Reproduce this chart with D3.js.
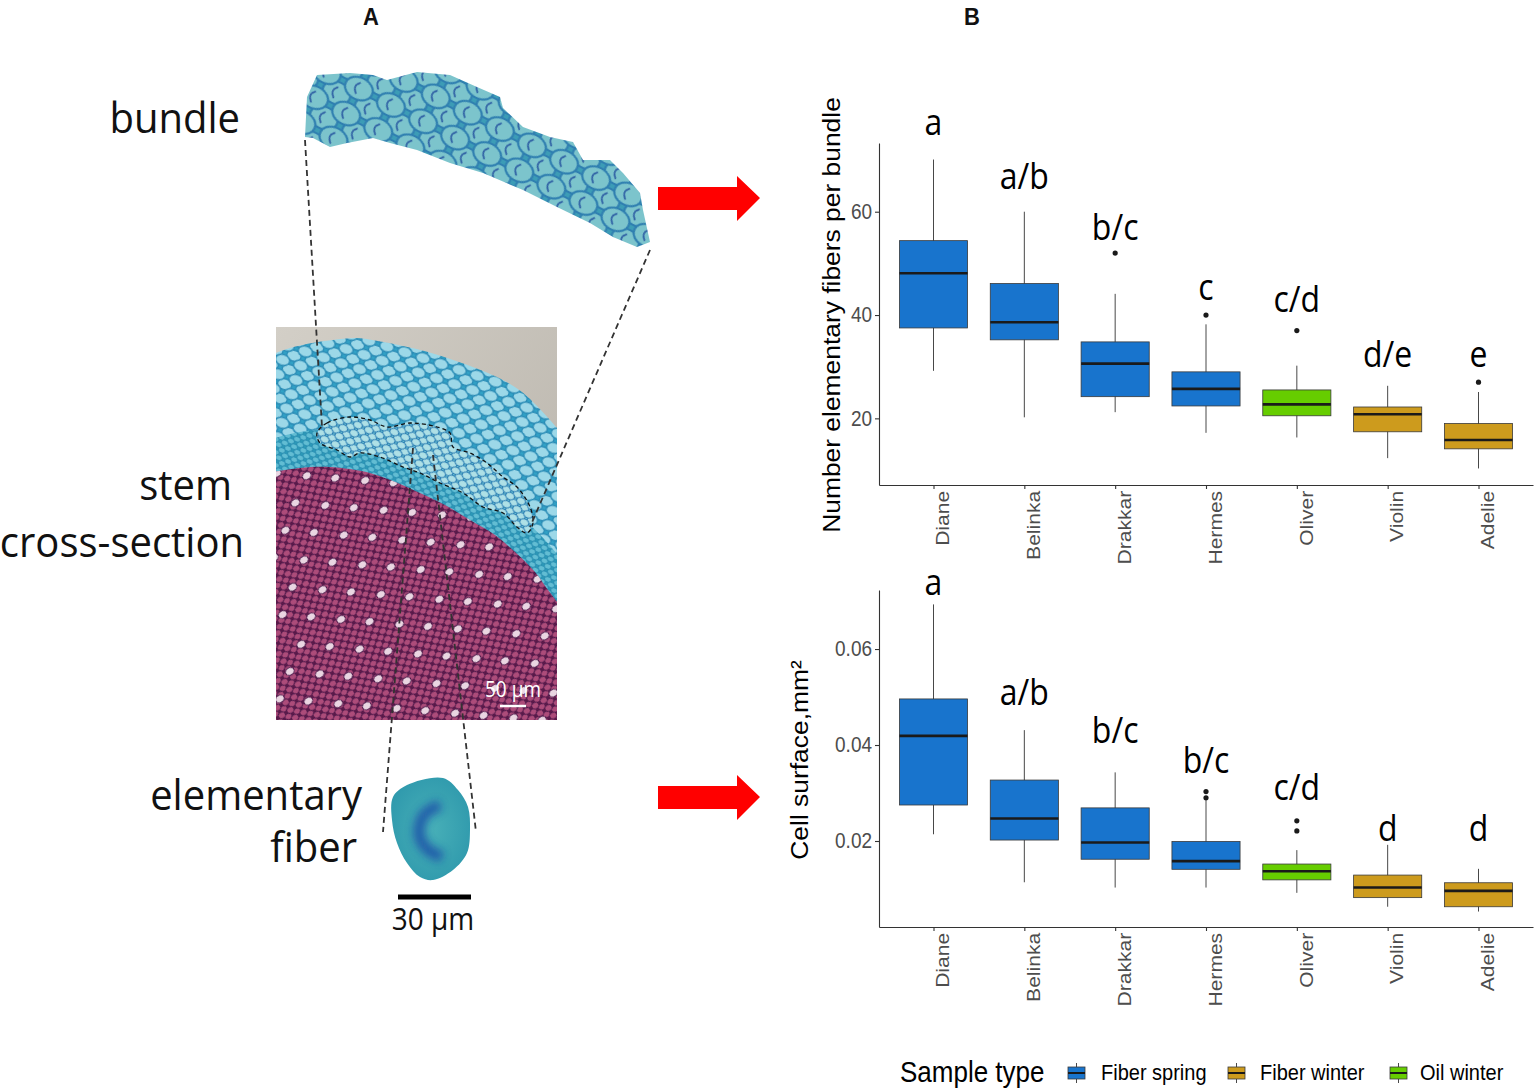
<!DOCTYPE html>
<html>
<head>
<meta charset="utf-8">
<script src="https://cdn.jsdelivr.net/npm/d3@7"></script>
<style>
  body { margin: 0; background: #fff; }
  svg { display: block; }
</style>
</head>
<body>
<div id="fig"></div>
<script>
// ---------- data ----------
const cultivars  = ["Diane", "Belinka", "Drakkar", "Hermes", "Oliver", "Violin", "Adelie"];
const sampleType = ["Fiber spring", "Fiber spring", "Fiber spring", "Fiber spring", "Oil winter", "Fiber winter", "Fiber winter"];

// number of elementary fibers per bundle
const fiberLower    = [29.2, 20.2, 21.2, 17.2, 16.3, 12.3, 10.3];
const fiberQ1       = [37.5, 35.2, 24.2, 22.4, 20.5, 17.4, 14.1];
const fiberMedian   = [48.1, 38.6, 30.6, 25.7, 22.7, 20.8, 15.8];
const fiberQ3       = [54.4, 46.1, 34.8, 29.0, 25.5, 22.2, 19.0];
const fiberUpper    = [70.1, 60.0, 44.1, 38.2, 30.2, 26.3, 25.1];
const fiberOutliers = [[], [], [52], [40], [37], [], [27]];
const fiberLetters  = ["a", "a/b", "b/c", "c", "c/d", "d/e", "e"];
const fiberLetterY  = [74.8, 64.3, 54.5, 42.9, 40.6, 30.0, 30.0];
const fiberTicks    = [20, 40, 60];

// cell surface, mm2
const surfLower    = [0.0214, 0.0114, 0.0103, 0.0103, 0.0092, 0.0063, 0.0053];
const surfQ1       = [0.0275, 0.0202, 0.0162, 0.0141, 0.0119, 0.0082, 0.0063];
const surfMedian   = [0.0419, 0.0247, 0.0197, 0.0158, 0.0137, 0.0103, 0.0096];
const surfQ3       = [0.0496, 0.0327, 0.0269, 0.0199, 0.0152, 0.0129, 0.0113];
const surfUpper    = [0.0693, 0.0431, 0.0343, 0.0285, 0.0181, 0.0192, 0.0142];
const surfOutliers = [[], [], [], [0.0303, 0.0290], [0.0242, 0.0221], [], []];
const surfLetters  = ["a", "a/b", "b/c", "b/c", "c/d", "d", "d"];
const surfLetterY  = [0.0713, 0.0483, 0.0404, 0.0342, 0.0285, 0.0199, 0.0199];
const surfTicks    = [0.02, 0.04, 0.06];

const legendTypes  = ["Fiber spring", "Fiber winter", "Oil winter"];
const legendColors = ["#1874CD", "#CD9B1D", "#66CD00"];

// ---------- setup ----------
const W = 1535, H = 1089;
const S = 1.12;   // the original figure is slightly stretched vertically
const sansR = "'Liberation Sans', Arial, sans-serif";
const sansO = "'Open Sans', sans-serif";

const color = d3.scaleOrdinal().domain(legendTypes).range(legendColors);

const svg = d3.select("#fig").append("svg")
    .attr("width", W)
    .attr("height", H);
const defs = svg.append("defs");

function htext(parent, x, y, str, size, opts = {}) {
    return parent.append("text")
        .attr("transform", `translate(${x},${y}) scale(1,${opts.sy || S})`)
        .attr("font-size", size)
        .attr("font-family", opts.family || sansO)
        .attr("font-weight", opts.weight || "normal")
        .attr("text-anchor", opts.anchor || "start")
        .attr("fill", opts.fill || "#111")
        .text(str);
}

// panel letters
htext(svg, 371, 25, "A", 22, {family: sansR, weight: "bold", anchor: "middle"});
htext(svg, 972, 25, "B", 22, {family: sansR, weight: "bold", anchor: "middle"});

// ---------- panel A : micrographs (drawn illustration) ----------
const line = d3.line().curve(d3.curveCatmullRom.alpha(0.5));
const lineClosed = d3.line().curve(d3.curveCatmullRomClosed.alpha(0.5));

function cellPattern(id, w, h, rot, base, rx, ry, fill, stroke, sw, lumen) {
    const p = defs.append("pattern").attr("id", id)
        .attr("patternUnits", "userSpaceOnUse")
        .attr("width", w).attr("height", h)
        .attr("patternTransform", `rotate(${rot})`);
    p.append("rect").attr("width", w).attr("height", h).attr("fill", base);
    [[w / 2, h / 2], [0, 0], [w, 0], [0, h], [w, h]].forEach(([cx, cy]) => {
        p.append("ellipse").attr("cx", cx).attr("cy", cy)
            .attr("rx", rx).attr("ry", ry)
            .attr("fill", fill).attr("stroke", stroke).attr("stroke-width", sw);
        if (lumen) {
            p.append("path")
                .attr("d", `M${cx - rx * 0.1},${cy - ry * 0.5} q${-rx * 0.4},${ry * 0.5} ${rx * 0.05},${ry * 1.0}`)
                .attr("fill", "none").attr("stroke", lumen).attr("stroke-width", sw * 0.8)
                .attr("stroke-linecap", "round").attr("opacity", 0.85);
        }
    });
}
cellPattern("bundleCells", 36, 28, 27, "#3c9cb6", 14.5, 11, "#7cc4cc", "#2f7fb0", 2.2, "#22509e");
cellPattern("cortexCells", 19, 15, 18, "#31a2c6", 7.3, 5.5, "#9cd8e8", "#2a8cb6", 1.4, null);
cellPattern("phloemCells", 10, 8, 22, "#2b9ab8", 3.6, 2.8, "#62bdd3", "#2389ae", 0.9, null);
cellPattern("xylemCells", 10, 9, -32, "#741846", 3.9, 3.4, "#ad4c7a", "#4a1547", 1.1, null);
cellPattern("smallBundle", 12, 9, 25, "#6cc4d2", 4.6, 3.5, "#aee0e6", "#2a7db3", 1.1, null);

const pl = defs.append("pattern").attr("id", "xylemLight")
    .attr("patternUnits", "userSpaceOnUse").attr("width", 47).attr("height", 35)
    .attr("patternTransform", "rotate(-32)");
[[8, 6], [31, 23]].forEach(([cx, cy]) => pl.append("ellipse")
    .attr("cx", cx).attr("cy", cy).attr("rx", 4.6).attr("ry", 3.8)
    .attr("fill", "#ead6e2").attr("stroke", "#4a1547").attr("stroke-width", 1));

const gg = defs.append("linearGradient").attr("id", "bgGray")
    .attr("x1", 0).attr("y1", 0).attr("x2", 1).attr("y2", 1);
gg.append("stop").attr("offset", 0).attr("stop-color", "#d3cfc7");
gg.append("stop").attr("offset", 1).attr("stop-color", "#b6b1a8");

const fg = defs.append("radialGradient").attr("id", "fiberGrad")
    .attr("cx", "0.5").attr("cy", "0.5").attr("r", "0.6");
fg.append("stop").attr("offset", 0).attr("stop-color", "#48b0b8");
fg.append("stop").attr("offset", 1).attr("stop-color", "#2e98ac");

defs.append("filter").attr("id", "blur")
    .attr("x", "-60%").attr("y", "-40%").attr("width", "220%").attr("height", "180%")
    .append("feGaussianBlur").attr("stdDeviation", 4);

defs.append("clipPath").attr("id", "stemClip").append("rect")
    .attr("x", 276).attr("y", 327).attr("width", 281).attr("height", 393);

// bundle on top
const bundleOutline = [[307, 97], [317, 75], [350, 73], [373, 75], [387, 80], [417, 72], [450, 75], [477, 87],
    [500, 97], [503, 108], [523, 127], [550, 137], [573, 142], [583, 160], [610, 160], [623, 173],
    [640, 193], [643, 210], [650, 242], [637, 247], [613, 237], [590, 223], [557, 207], [523, 190],
    [483, 173], [450, 163], [417, 150], [390, 143], [373, 138], [347, 143], [330, 147], [313, 138], [305, 137]];
svg.append("path").attr("d", d3.line()(bundleOutline) + "Z").attr("fill", "url(#bundleCells)");

// stem cross-section
const stem = svg.append("g").attr("clip-path", "url(#stemClip)");
stem.append("rect").attr("x", 276).attr("y", 327).attr("width", 281).attr("height", 393).attr("fill", "url(#bgGray)");
const cortexEdge = [[268, 356], [290, 348], [312, 343], [333, 340], [355, 338], [378, 341], [403, 346], [428, 352],
    [453, 360], [478, 369], [503, 380], [522, 392], [537, 406], [550, 420], [562, 434]];
stem.append("path").attr("d", line(cortexEdge) + "L562,725L268,725Z").attr("fill", "url(#cortexCells)");
const phloemEdge = [[268, 440], [300, 432], [335, 430], [375, 437], [410, 450], [440, 465], [470, 482],
    [500, 500], [525, 520], [545, 540], [562, 560]];
stem.append("path").attr("d", line(phloemEdge) + "L562,725L268,725Z").attr("fill", "url(#phloemCells)");
const xylemEdge = [[268, 473], [300, 468], [330, 467], [370, 473], [400, 484], [420, 493], [445, 505],
    [470, 520], [495, 535], [515, 552], [535, 572], [548, 590], [562, 608]];
stem.append("path").attr("d", line(xylemEdge) + "L562,725L268,725Z").attr("fill", "url(#xylemCells)");
stem.append("path").attr("d", line(xylemEdge) + "L562,725L268,725Z").attr("fill", "url(#xylemLight)");
const bundleInStem = [[317, 433], [327, 423], [350, 417], [370, 420], [387, 427], [410, 423], [437, 427],
    [450, 433], [453, 447], [470, 453], [487, 463], [503, 477], [517, 487], [530, 507], [533, 523],
    [527, 533], [517, 527], [503, 513], [483, 507], [463, 493], [440, 483], [420, 473], [403, 467],
    [380, 457], [360, 453], [350, 457], [337, 450], [320, 443]];
stem.append("path").attr("d", lineClosed(bundleInStem))
    .attr("fill", "url(#smallBundle)")
    .attr("stroke", "#111").attr("stroke-width", 1.3).attr("stroke-dasharray", "4,3");
stem.append("line").attr("x1", 500).attr("x2", 526).attr("y1", 706).attr("y2", 706)
    .attr("stroke", "#fff").attr("stroke-width", 2.5);
htext(stem, 485, 697, "50 μm", 19, {fill: "#fff"});

// elementary fiber
const fiberShape = [[393, 797], [407, 785], [443, 778], [458, 790], [468, 807], [470, 830], [467, 853],
    [453, 870], [433, 880], [420, 877], [407, 863], [397, 843], [392, 820]];
const fiberG = svg.append("g");
fiberG.append("clipPath").attr("id", "fiberClip").append("path").attr("d", lineClosed(fiberShape));
fiberG.append("path").attr("d", lineClosed(fiberShape)).attr("fill", "url(#fiberGrad)");
fiberG.append("g").attr("clip-path", "url(#fiberClip)")
    .append("path").attr("d", line([[440, 805], [424, 815], [419, 834], [427, 849], [442, 857]]))
    .attr("fill", "none").attr("stroke", "#1d4fa8").attr("stroke-width", 11).attr("opacity", 0.85)
    .attr("filter", "url(#blur)");
svg.append("line").attr("x1", 398).attr("x2", 471).attr("y1", 897).attr("y2", 897)
    .attr("stroke", "#000").attr("stroke-width", 5);
htext(svg, 433, 930, "30 μm", 28, {anchor: "middle"});

// dashed connectors
[[[305, 140], [322, 427]], [[650, 250], [530, 527]], [[413, 448], [383, 832]], [[433, 455], [476, 832]]]
    .forEach(([a, b]) => svg.append("line")
        .attr("x1", a[0]).attr("y1", a[1]).attr("x2", b[0]).attr("y2", b[1])
        .attr("stroke", "#333").attr("stroke-width", 1.8).attr("stroke-dasharray", "6,4"));

// labels
htext(svg, 240, 133, "bundle", 40, {anchor: "end", sy: 1.05});
htext(svg, 232, 500, "stem", 40, {anchor: "end", sy: 1.05});
htext(svg, 244, 557, "cross-section", 40, {anchor: "end", sy: 1.05});
htext(svg, 362, 810, "elementary", 40, {anchor: "end", sy: 1.05});
htext(svg, 357, 862, "fiber", 40, {anchor: "end", sy: 1.05});

// red arrows
[198, 797].forEach(cy => svg.append("path")
    .attr("d", `M658,${cy - 11}H737V${cy - 22}L760,${cy}L737,${cy + 23}V${cy + 12}H658Z`)
    .attr("fill", "#ff0000"));

// ---------- panel B : box plots ----------
function drawPanel(cfg) {
    const x = d3.scalePoint().domain(cultivars).range([879, 1533]).padding(0.6);
    const y = d3.scaleLinear().domain(cfg.domain).range([cfg.bottom, cfg.top]);
    const bw = x.step() * 0.75;
    const rows = cultivars.map((c, i) => ({
        c: c, type: sampleType[i],
        lo: cfg.lower[i], q1: cfg.q1[i], med: cfg.median[i], q3: cfg.q3[i], hi: cfg.upper[i],
        out: cfg.outliers[i], letter: cfg.letters[i], ly: cfg.letterY[i]
    }));
    const g = svg.append("g");

    g.selectAll(".whisker").data(rows).join("line")
        .attr("x1", d => x(d.c)).attr("x2", d => x(d.c))
        .attr("y1", d => y(d.lo)).attr("y2", d => y(d.hi))
        .attr("stroke", "#333").attr("stroke-width", 0.9);

    g.selectAll(".box").data(rows).join("rect")
        .attr("x", d => x(d.c) - bw / 2).attr("width", bw)
        .attr("y", d => y(d.q3)).attr("height", d => y(d.q1) - y(d.q3))
        .attr("fill", d => color(d.type))
        .attr("stroke", "#3a3a3a").attr("stroke-width", 0.8);

    g.selectAll(".median").data(rows).join("line")
        .attr("x1", d => x(d.c) - bw / 2).attr("x2", d => x(d.c) + bw / 2)
        .attr("y1", d => y(d.med)).attr("y2", d => y(d.med))
        .attr("stroke", "#1a1a1a").attr("stroke-width", 2.6);

    g.selectAll(".outlier").data(rows.flatMap(d => d.out.map(v => ({c: d.c, v: v})))).join("circle")
        .attr("cx", d => x(d.c)).attr("cy", d => y(d.v)).attr("r", 2.6)
        .attr("fill", "#1a1a1a");

    rows.forEach(d => htext(g, x(d.c), y(d.ly), d.letter, 32, {anchor: "middle", fill: "#000"}));

    // axes
    const yAxis = g.append("g").attr("transform", "translate(879,0)")
        .call(d3.axisLeft(y).tickValues(cfg.ticks).tickFormat(cfg.fmt).tickSize(4).tickSizeOuter(0));
    const xAxis = g.append("g").attr("transform", `translate(0,${cfg.bottom})`)
        .call(d3.axisBottom(x).tickSize(4).tickSizeOuter(0));
    [yAxis, xAxis].forEach(a => {
        a.select(".domain").attr("stroke", "#333").attr("stroke-width", 1.1);
        a.selectAll(".tick line").attr("stroke", "#333").attr("stroke-width", 1.1);
        a.selectAll("text").attr("font-family", sansR).attr("font-size", 19).attr("fill", "#4d4d4d");
    });
    yAxis.selectAll("text").attr("transform", `scale(1,${S})`);
    xAxis.selectAll("text")
        .attr("font-size", 18)
        .attr("transform", "rotate(-90) scale(1.17,1)")
        .attr("text-anchor", "end")
        .attr("x", -5).attr("y", 0).attr("dy", "0.85em");

    g.append("text")
        .attr("transform", `translate(${cfg.titleX},${cfg.titleY}) rotate(-90) scale(1.1,1)`)
        .attr("text-anchor", "middle")
        .attr("font-family", sansR).attr("font-size", 24).attr("fill", "#000")
        .text(cfg.title);
}

drawPanel({
    top: 143, bottom: 485, domain: [7.1, 73.3],
    lower: fiberLower, q1: fiberQ1, median: fiberMedian, q3: fiberQ3, upper: fiberUpper,
    outliers: fiberOutliers, letters: fiberLetters, letterY: fiberLetterY,
    ticks: fiberTicks, fmt: d3.format("d"),
    title: "Number elementary fibers per bundle", titleX: 840, titleY: 315
});

drawPanel({
    top: 590, bottom: 927, domain: [0.00208, 0.0723],
    lower: surfLower, q1: surfQ1, median: surfMedian, q3: surfQ3, upper: surfUpper,
    outliers: surfOutliers, letters: surfLetters, letterY: surfLetterY,
    ticks: surfTicks, fmt: d3.format(".2f"),
    title: "Cell surface,mm²", titleX: 808, titleY: 760
});

// ---------- legend ----------
const lg = svg.append("g");
htext(lg, 900, 1082, "Sample type", 26, {family: sansR, fill: "#000"});
const keyX = [1068, 1228, 1390], labX = [1101, 1260, 1420];
legendTypes.forEach((t, i) => {
    const k = lg.append("g").attr("transform", `translate(${keyX[i]},1073)`);
    k.append("line").attr("x1", 8.5).attr("x2", 8.5).attr("y1", -10).attr("y2", 10)
        .attr("stroke", "#333").attr("stroke-width", 0.9);
    k.append("rect").attr("x", 0).attr("y", -6).attr("width", 17).attr("height", 12)
        .attr("fill", color(t)).attr("stroke", "#3a3a3a").attr("stroke-width", 0.8);
    k.append("line").attr("x1", 0).attr("x2", 17).attr("y1", 0).attr("y2", 0)
        .attr("stroke", "#1a1a1a").attr("stroke-width", 2);
    htext(lg, labX[i], 1080, t, 20, {family: sansR, fill: "#000"});
});
</script>
</body>
</html>
